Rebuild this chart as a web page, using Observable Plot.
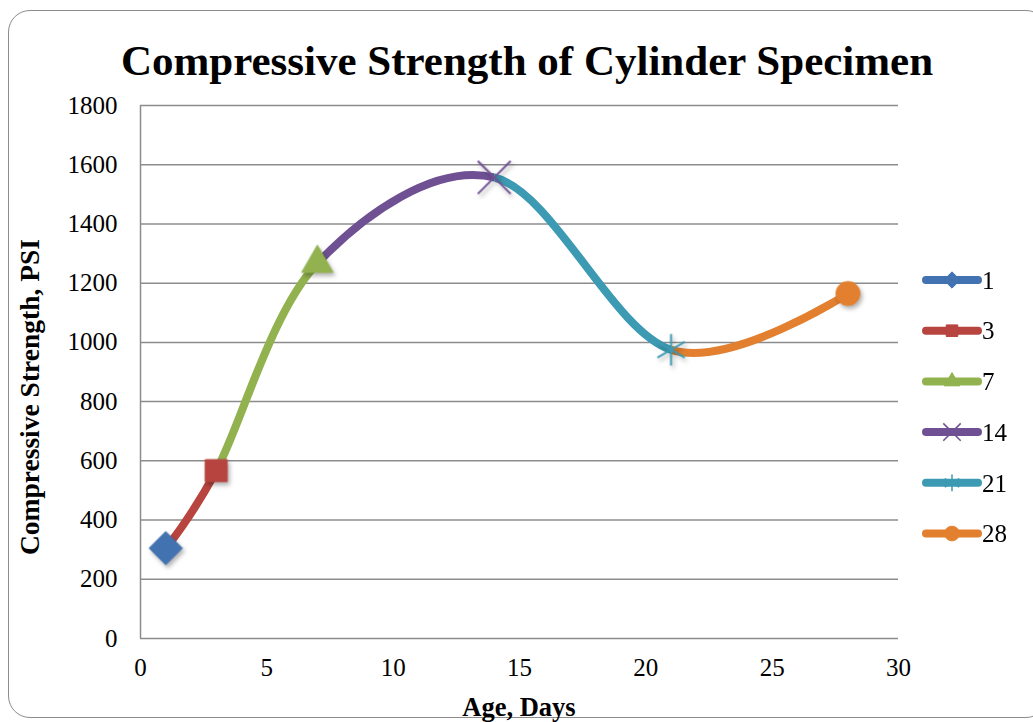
<!DOCTYPE html>
<html>
<head>
<meta charset="utf-8">
<script src="https://cdn.jsdelivr.net/npm/d3@7"></script>
<script src="https://cdn.jsdelivr.net/npm/@observablehq/plot@0.6"></script>
<style>
  html, body { margin: 0; padding: 0; background: #fff; }
  #wrap { position: relative; width: 1033px; height: 722px; overflow: hidden; font-family: "Liberation Serif", "Times New Roman", serif; }
  #frame { position: absolute; left: 8px; top: 10px; width: 1040px; height: 708px; border: 1.5px solid #8c8c8c; border-radius: 22px; box-sizing: border-box; }
  #title { position: absolute; left: 0; top: 36px; width: 1054px; text-align: center; font-weight: bold; font-size: 43px; color: #000; line-height: 50px; }
  #ytitle { position: absolute; left: 30px; top: 397px; transform: translate(-50%, -50%) rotate(-90deg); white-space: nowrap; font-weight: bold; font-size: 27.5px; color: #000; }
  #xtitle { position: absolute; left: 519px; top: 707px; transform: translate(-50%, -50%); white-space: nowrap; font-weight: bold; font-size: 26.5px; color: #000; }
  #chart { position: absolute; left: 0; top: 0; }
  #legend { position: absolute; left: 0; top: 0; }
  g[aria-label="dot"] { filter: drop-shadow(2px 3px 2px rgba(0,0,0,0.3)); }
</style>
</head>
<body>
<div id="wrap">
  <div id="frame"></div>
  <div id="chart"></div>
  <div id="title">Compressive Strength of Cylinder Specimen</div>
  <div id="ytitle">Compressive Strength, PSI</div>
  <div id="xtitle">Age, Days</div>
  <svg id="legend" width="1033" height="722"></svg>
</div>
<script>
// ---- data ----
const ages = [1, 3, 7, 14, 21, 28];
const strength = [305, 567, 1267, 1557, 975, 1165];
const seriesNames = ["1", "3", "7", "14", "21", "28"];
const seriesColors = ["#4272b0", "#b8443f", "#91b24f", "#6f5193", "#3c9ab3", "#e2802f"];
const seriesSymbols = ["diamond2", "square2", "triangle2", "times", "asterisk", "circle"];
const yTicks = [0, 200, 400, 600, 800, 1000, 1200, 1400, 1600, 1800];
const xTicks = [0, 5, 10, 15, 20, 25, 30];

const markerR = {diamond2: 15, square2: 14, triangle2: 15, times: 15, asterisk: 15, circle: 12};
const data = ages.map((a, i) => ({age: a, psi: strength[i], name: seriesNames[i], color: seriesColors[i], symbol: seriesSymbols[i], r: markerR[seriesSymbols[i]]}));
const filled = data.filter(d => d.symbol !== "times" && d.symbol !== "asterisk");
const stroked = data.filter(d => d.symbol === "times" || d.symbol === "asterisk");

// one colored piece of the smooth curve per interval, ending-point color
const segments = ages.slice(1).map((a, i) => ({x0: ages[i], x1: a, color: seriesColors[i + 1], id: "seg" + i}));

const fontFam = "Liberation Serif, Times New Roman, serif";

const segMarks = segments.map(s => Plot.line(data, {
  x: "age", y: "psi", curve: "cardinal", tension: 0,
  stroke: s.color, strokeWidth: 8, strokeLinecap: "butt",
  render(index, scales, values, dims, context, next) {
    const g = next(index, scales, values, dims, context);
    const ns = "http://www.w3.org/2000/svg";
    const cp = document.createElementNS(ns, "clipPath");
    cp.setAttribute("id", s.id);
    const r = document.createElementNS(ns, "rect");
    const xa = scales.x(s.x0), xb = scales.x(s.x1);
    r.setAttribute("x", xa);
    r.setAttribute("width", xb - xa);
    r.setAttribute("y", 0);
    r.setAttribute("height", dims.height);
    cp.appendChild(r);
    g.insertBefore(cp, g.firstChild);
    g.setAttribute("clip-path", `url(#${s.id})`);
    return g;
  }
}));

const chart = Plot.plot({
  width: 1033,
  height: 722,
  marginTop: 105,
  marginLeft: 140,
  marginRight: 135,
  marginBottom: 84,
  style: {fontFamily: fontFam, fontSize: "25px", color: "#000", background: "transparent"},
  x: {domain: [0, 30], ticks: xTicks, label: null},
  y: {domain: [0, 1800], ticks: yTicks, label: null},
  r: {type: "identity"},
  symbol: {domain: seriesSymbols, range: seriesSymbols},
  marks: [
    Plot.gridY(yTicks, {stroke: "#8c8c8c", strokeOpacity: 1, strokeWidth: 1.5}),
    Plot.ruleX([0], {stroke: "#8c8c8c", strokeWidth: 1.5}),
    Plot.axisY({ticks: yTicks, tickSize: 0, tickPadding: 23, fontSize: 25, fontFamily: fontFam, tickFormat: d => String(d), label: null}),
    Plot.axisX({ticks: xTicks, tickSize: 0, tickPadding: 20, fontSize: 25, fontFamily: fontFam, tickFormat: d => String(d), label: null}),
    ...segMarks,
    Plot.dot(filled, {x: "age", y: "psi", symbol: "symbol", r: "r", fill: d => d.color, stroke: d => d.color, strokeWidth: 1}),
    Plot.dot(stroked, {x: "age", y: "psi", symbol: "symbol", r: "r", stroke: d => d.color, fill: "none", strokeWidth: 2})
  ]
});
document.getElementById("chart").appendChild(chart);
// make sure every text of the plot uses the serif face
d3.select(chart).selectAll("text, g").style("font-family", fontFam);

// ---- legend ----
const lg = d3.select("#legend");
const symMap = {diamond2: d3.symbolDiamond2, square2: d3.symbolSquare2, triangle2: d3.symbolTriangle2, times: d3.symbolTimes, asterisk: d3.symbolAsterisk, circle: d3.symbolCircle};
seriesNames.forEach((n, i) => {
  const cy = 280 + i * 50.7;
  const g = lg.append("g").attr("transform", `translate(0,${cy})`);
  g.append("line").attr("x1", 926).attr("x2", 978).attr("y1", 0).attr("y2", 0)
    .attr("stroke", seriesColors[i]).attr("stroke-width", 8).attr("stroke-linecap", "round");
  const sym = seriesSymbols[i];
  const isStroke = sym === "times" || sym === "asterisk";
  g.append("path").attr("transform", "translate(952,0)")
    .attr("d", d3.symbol(symMap[sym], isStroke ? 200 : 170)())
    .attr("fill", isStroke ? "none" : seriesColors[i])
    .attr("stroke", seriesColors[i]).attr("stroke-width", isStroke ? 1.5 : 1);
  g.append("text").attr("x", 982).attr("y", 0).attr("dy", "0.35em")
    .attr("font-family", fontFam).attr("font-size", 25).attr("fill", "#000").text(n);
});
</script>
</body>
</html>
